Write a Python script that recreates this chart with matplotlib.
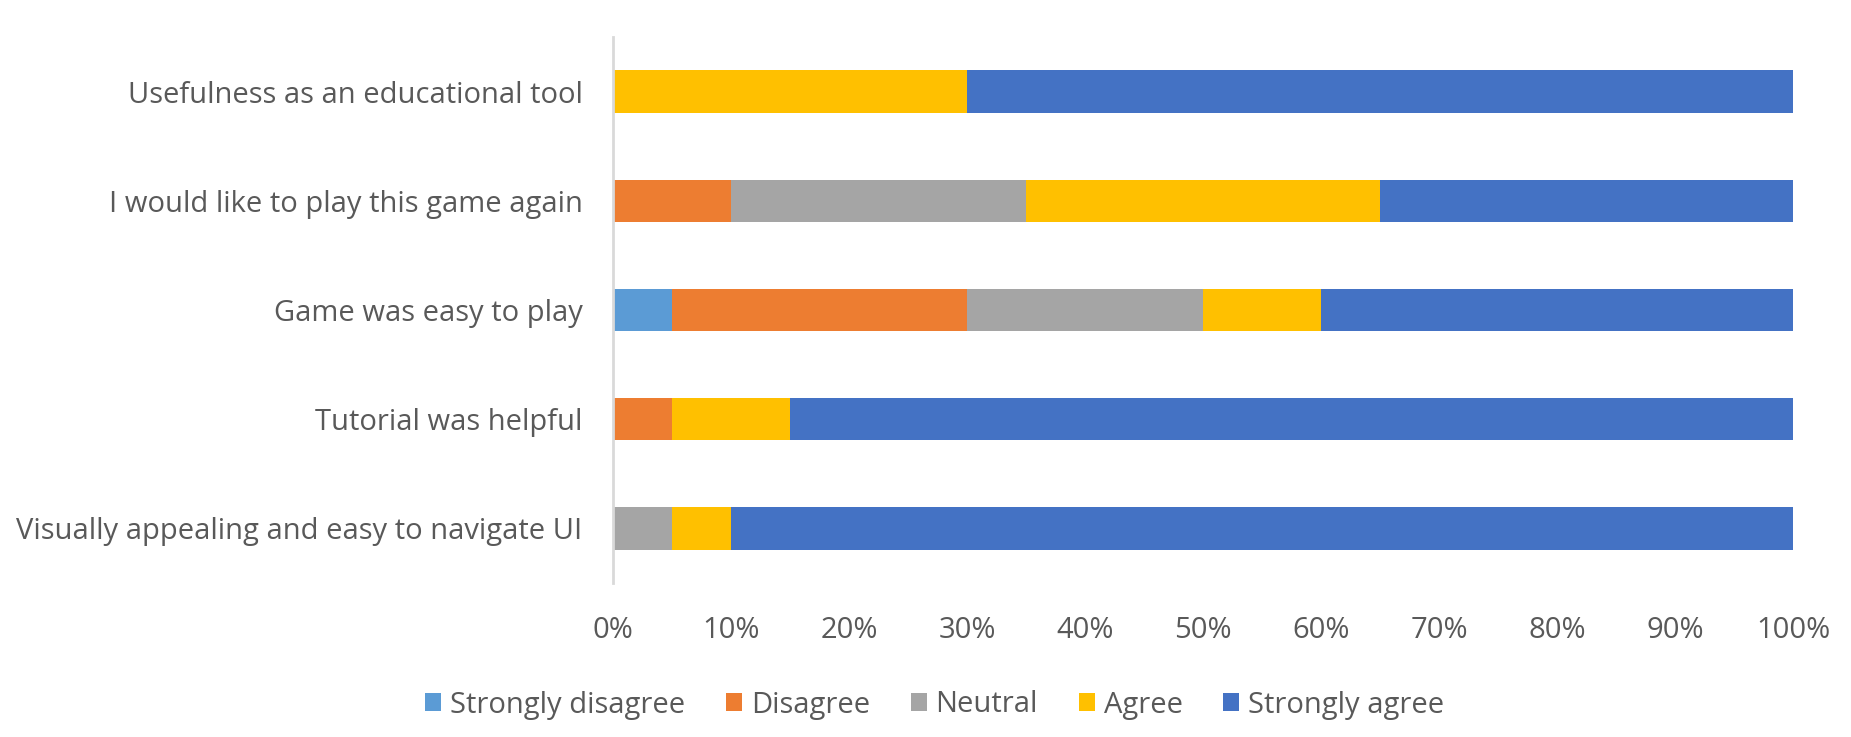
import matplotlib
matplotlib.use("Agg")
import matplotlib.pyplot as plt
import numpy as np
from matplotlib.ticker import PercentFormatter

# survey statements, top to bottom
statements = [
    "Usefulness as an educational tool",
    "I would like to play this game again",
    "Game was easy to play",
    "Tutorial was helpful",
    "Visually appealing and easy to navigate UI",
]
responses = ["Strongly disagree", "Disagree", "Neutral", "Agree", "Strongly agree"]

# share of answers (%) per statement
strongly_disagree = [0, 0, 5, 0, 0]
disagree = [0, 10, 25, 5, 0]
neutral = [0, 25, 20, 0, 5]
agree = [30, 30, 10, 10, 5]
strongly_agree = [70, 35, 40, 85, 90]

colors = ["#5B9BD5", "#ED7D31", "#A5A5A5", "#FFC000", "#4472C4"]
text_color = "#595959"
fs = 21

plt.rcParams["font.family"] = ["Open Sans", "DejaVu Sans"]

fig = plt.figure(figsize=(18.51, 7.37), dpi=100)
ax = fig.add_axes([613 / 1851, 154 / 737, 1180 / 1851, 546 / 737])

series = [strongly_disagree, disagree, neutral, agree, strongly_agree]
ys = np.arange(len(statements))
left = np.zeros(len(statements))
for name, vals, col in zip(responses, series, colors):
    vals = np.array(vals, dtype=float)
    ax.barh(ys, vals, left=left, height=0.39, color=col, label=name)
    left += vals

ax.set_ylim(len(statements) - 0.5, -0.5)
ax.set_xlim(0, 100)
ax.set_yticks(ys)
ax.set_yticklabels(statements, fontsize=fs, color=text_color)
ax.set_xticks(np.arange(0, 101, 10))
ax.xaxis.set_major_formatter(PercentFormatter(decimals=0))
ax.tick_params(axis="x", labelsize=fs, labelcolor=text_color, length=0, pad=24)
ax.tick_params(axis="y", length=0, pad=22)
for s in ["top", "right", "bottom"]:
    ax.spines[s].set_visible(False)
ax.spines["left"].set_color("#D9D9D9")
ax.spines["left"].set_linewidth(2)

fig.legend(loc="center", bbox_to_anchor=(0.505, 1 - 705 / 737), ncol=5,
           frameon=False, fontsize=fs, labelcolor=text_color,
           handlelength=0.55, handleheight=0.6, handletextpad=0.3, columnspacing=1.4)

fig.savefig("out.png", dpi=100)
